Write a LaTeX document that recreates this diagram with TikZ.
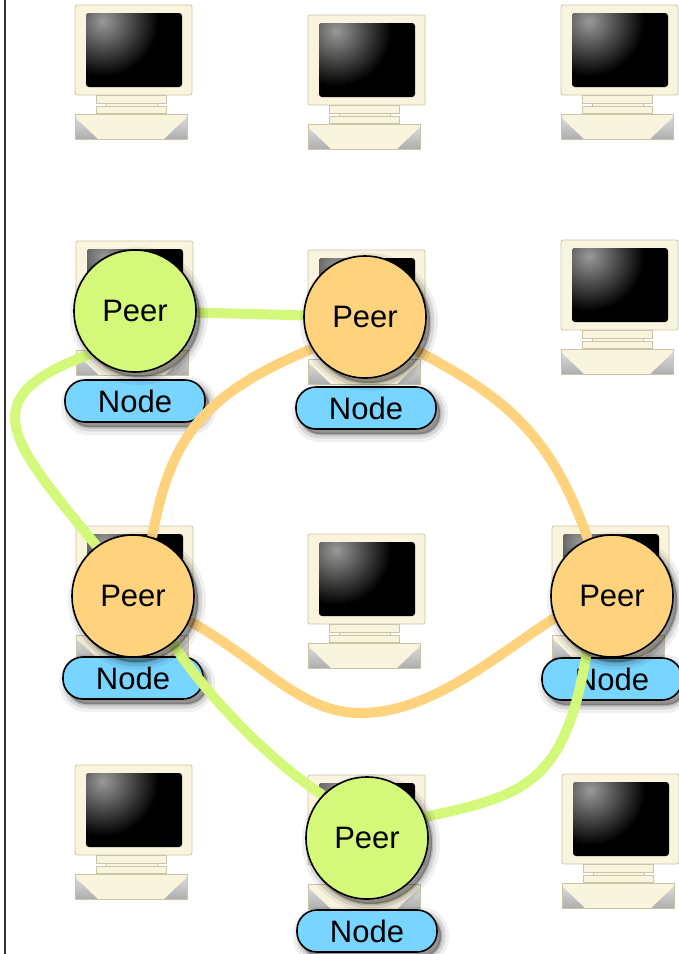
\documentclass[tikz,border=0pt]{standalone}
\usepackage{fontspec}
\setmainfont{Liberation Sans}

\pgfdeclarelayer{back}
\pgfdeclarelayer{lines}
\pgfsetlayers{back,lines,main}

\definecolor{peerGreen}{HTML}{D4F87A}
\definecolor{peerOrange}{HTML}{FFD37D}
\definecolor{nodeBlue}{HTML}{78D5FF}
\definecolor{caseBeige}{HTML}{F8F4DE}
\definecolor{caseEdge}{HTML}{CBC4A6}

%% one desktop machine, origin at the top left corner of the monitor
\tikzset{pics/computer/.style={code={
  \fill[caseBeige, draw=caseEdge, line width=0.8pt, rounded corners=2pt] (0,0) rectangle (117,90);
  \fill[black, rounded corners=3pt] (11,8) rectangle (107,82);
  \begin{scope}
    \clip[rounded corners=3pt] (11,8) rectangle (107,82);
    \shade[inner color=black!40, outer color=black] (28,16) circle (55);
  \end{scope}
  \fill[caseBeige, draw=caseEdge, line width=0.6pt] (21,90) rectangle (91,98);
  \fill[caseBeige, draw=caseEdge, line width=0.6pt] (31,98) rectangle (82,101);
  \fill[caseBeige, draw=caseEdge, line width=0.6pt] (21,101) rectangle (91,108);
  \shade[top color=black!12, bottom color=black!32] (0,109) rectangle (112,134);
  \fill[caseBeige] (0,109) -- (112,109) -- (112,112) -- (89,134) -- (23,134) -- (0,112) -- cycle;
  \draw[caseEdge, line width=0.6pt] (0,109) rectangle (112,134);
}}}

\begin{document}
\begin{tikzpicture}
        [x=1pt, y=-1pt,
        softshadow/.style={
          preaction={draw=black, draw opacity=0.06, line width=16pt, fill=black, fill opacity=0.06,
            transform canvas={xshift=4pt, yshift=-5pt}},
          preaction={draw=black, draw opacity=0.1, line width=9pt, fill=black, fill opacity=0.12,
            transform canvas={xshift=4pt, yshift=-5pt}},
          preaction={draw=black, draw opacity=0.15, line width=3pt, fill=black, fill opacity=0.18,
            transform canvas={xshift=4pt, yshift=-5pt}}},
        peer/.style={circle, draw=black, line width=1.6pt, minimum size=122pt, inner sep=0pt,
          font=\fontsize{31}{36}\selectfont, softshadow},
        green/.style={fill=peerGreen},
        orange/.style={fill=peerOrange},
        host/.style={rectangle, rounded corners=20pt, draw=black, line width=1.6pt, fill=nodeBlue,
          minimum width=140pt, minimum height=42pt, inner sep=0pt,
          font=\fontsize{31}{36}\selectfont, softshadow},
        glink/.style={draw=peerGreen, line width=10pt},
        olink/.style={draw=peerOrange, line width=10pt}]
%
\useasboundingbox (0,0) rectangle (678,954);
\draw[line width=2pt, black!80] (5,0) -- (5,954);
%%
%% Machines and their host labels
%%
\begin{pgfonlayer}{back}
\pic at (75,5)    {computer};
\pic at (308,15)  {computer};
\pic at (561,5)   {computer};
\pic at (76,241)  {computer};
\pic at (308,250) {computer};
\pic at (561,240) {computer};
\pic at (76,526)  {computer};
\pic at (308,534) {computer};
\pic at (552,526) {computer};
\pic at (75,765)  {computer};
\pic at (308,775) {computer};
\pic at (562,774) {computer};

\node[host] (n1) at (135,401) {Node};
\node[host] (n2) at (366,408) {Node};
\node[host] (n3) at (133,678) {Node};
\node[host] (n4) at (612,679) {Node};
\node[host] (n5) at (367,931) {Node};
\end{pgfonlayer}
%%
%% Peers
%%
\node[peer, green]  (p1) at (135,311) {Peer};
\node[peer, orange] (p2) at (365,317) {Peer};
\node[peer, orange] (p3) at (133,596) {Peer};
\node[peer, orange] (p4) at (612,596) {Peer};
\node[peer, green]  (p5) at (367,838) {Peer};
%%
%% Overlay links
%%
\begin{pgfonlayer}{lines}
\draw[glink] (p1) -- (p2);
\draw[glink] (p1.224) .. controls (-30,398) and (10,440) .. (p3.126);
\draw[glink] (p3.310) .. controls (210,700) and (270,760) .. (p5.136);
\draw[glink] (p5.20) .. controls (530,795) and (565,780) .. (p4.246);

\draw[olink] (p2.211) .. controls (200,395) and (170,440) .. (p3.72);
\draw[olink] (p2.327) .. controls (500,395) and (550,430) .. (p4.113);
\draw[olink] (p3.336) .. controls (260,660) and (300,713) .. (360,713)
                      .. controls (430,713) and (490,660) .. (p4.201);
\end{pgfonlayer}

\end{tikzpicture}
\end{document}
